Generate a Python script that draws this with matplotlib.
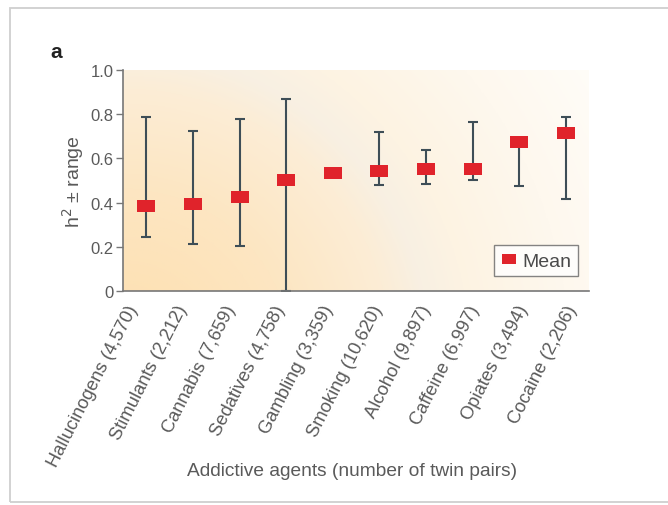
import matplotlib
matplotlib.use("Agg")
import matplotlib.pyplot as plt
import matplotlib.transforms as mtransforms
import numpy as np
from matplotlib.patches import Rectangle
from matplotlib.colors import LinearSegmentedColormap

plt.rcParams['font.family'] = ['Liberation Sans', 'DejaVu Sans']

agents = ["Hallucinogens (4,570)", "Stimulants (2,212)", "Cannabis (7,659)",
          "Sedatives (4,758)", "Gambling (3,359)", "Smoking (10,620)",
          "Alcohol (9,897)", "Caffeine (6,997)", "Opiates (3,494)", "Cocaine (2,206)"]
h2_mean = [0.383, 0.395, 0.425, 0.504, 0.533, 0.545, 0.554, 0.554, 0.673, 0.715]
h2_low = [0.244, 0.211, 0.204, 0.0, 0.533, 0.480, 0.484, 0.501, 0.475, 0.415]
h2_high = [0.787, 0.725, 0.778, 0.869, 0.533, 0.718, 0.637, 0.765, 0.673, 0.787]
yticks = [0, 0.2, 0.4, 0.6, 0.8, 1.0]
ytick_labels = ["0", "0.2", "0.4", "0.6", "0.8", "1.0"]

red = "#e0232b"
bar_col = "#3e4e57"
txt = "#5a5a5a"

W, H = 668, 506
fig = plt.figure(figsize=(W / 100, H / 100), dpi=100)
fig.patch.set_facecolor("white")
# page frame
fig.patches.append(Rectangle((10 / W, 3 / H), 700 / W, 494 / H,
                             transform=fig.transFigure, fill=False,
                             edgecolor="#cfcfcf", lw=1.3))

ax = fig.add_axes([123 / W, 1 - 292 / H, 466 / W, 221 / H])

# radial background gradient, centre just below the lower-left corner
px, py = np.meshgrid(np.linspace(0, 466, 400), np.linspace(0, 221, 200))
dist = np.sqrt(px ** 2 + (py + 66) ** 2)
bg = LinearSegmentedColormap.from_list(
    "bg", [(0.0, "#fddfae"), (0.3, "#fde6c2"), (0.48, "#fcedd6"),
           (0.55, "#f8f0e3"), (0.62, "#fdf3e2"), (0.8, "#fef8ee"), (1.0, "#fffdf9")])
ax.imshow(dist, cmap=bg, origin="lower", extent=[-0.5, 9.5, 0, 1.0],
          aspect="auto", zorder=0, vmin=0, vmax=560)

x = np.arange(len(agents))
mean = np.array(h2_mean)
yerr = [mean - np.array(h2_low), np.array(h2_high) - mean]
ax.errorbar(x, mean, yerr=yerr, fmt="none", ecolor=bar_col, elinewidth=1.5,
            capsize=3.7, capthick=1.5, zorder=2)
rect = [(-1.5, -1), (1.5, -1), (1.5, 1), (-1.5, 1)]
ax.plot(x, mean, linestyle="none", marker=rect, markersize=13.5, color=red,
        markeredgewidth=0, zorder=3, label="Mean")

ax.set_xlim(-0.5, 9.5)
ax.set_ylim(0, 1.0)
ax.set_yticks(yticks)
ax.set_yticklabels(ytick_labels)
ax.set_xticks(x)
ax.set_xticklabels(agents, rotation=63, ha="right", rotation_mode="anchor",
                   fontsize=13.2, color=txt)
ax.tick_params(axis="x", length=0, pad=8)
# labels drift slightly to the right in the original layout (shift in pixels)
for i, lab in enumerate(ax.get_xticklabels()):
    shift = (-20 + 2.2 * i) / fig.dpi
    lab.set_transform(lab.get_transform() +
                      mtransforms.ScaledTranslation(shift, 0, fig.dpi_scale_trans))
ax.tick_params(axis="y", length=5, width=1, color="#777777", labelsize=12,
               labelcolor=txt, pad=2)
for s in ["top", "right"]:
    ax.spines[s].set_visible(False)
for s in ["left", "bottom"]:
    ax.spines[s].set_color("#777777")
    ax.spines[s].set_linewidth(1.2)

ax.set_ylabel("h$^2$ ± range", fontsize=14, color=txt, labelpad=3)
fig.text(352 / W, 1 - 472 / H, "Addictive agents (number of twin pairs)",
         ha="center", va="center", fontsize=13.8, color=txt)
fig.text(56 / W, 1 - 52 / H, "a", ha="center", va="center",
         fontsize=15, fontweight="bold", color="#222222")

leg = ax.legend(loc="lower right", bbox_to_anchor=(0.977, 0.066), fontsize=14,
                frameon=True, fancybox=False, edgecolor="#666666",
                handlelength=0.8, handletextpad=0.3, borderpad=0.35,
                borderaxespad=0, markerscale=0.75)
leg.get_frame().set_linewidth(1.0)
for t in leg.get_texts():
    t.set_color("#4a4a4a")

fig.savefig("out.png", dpi=100)
